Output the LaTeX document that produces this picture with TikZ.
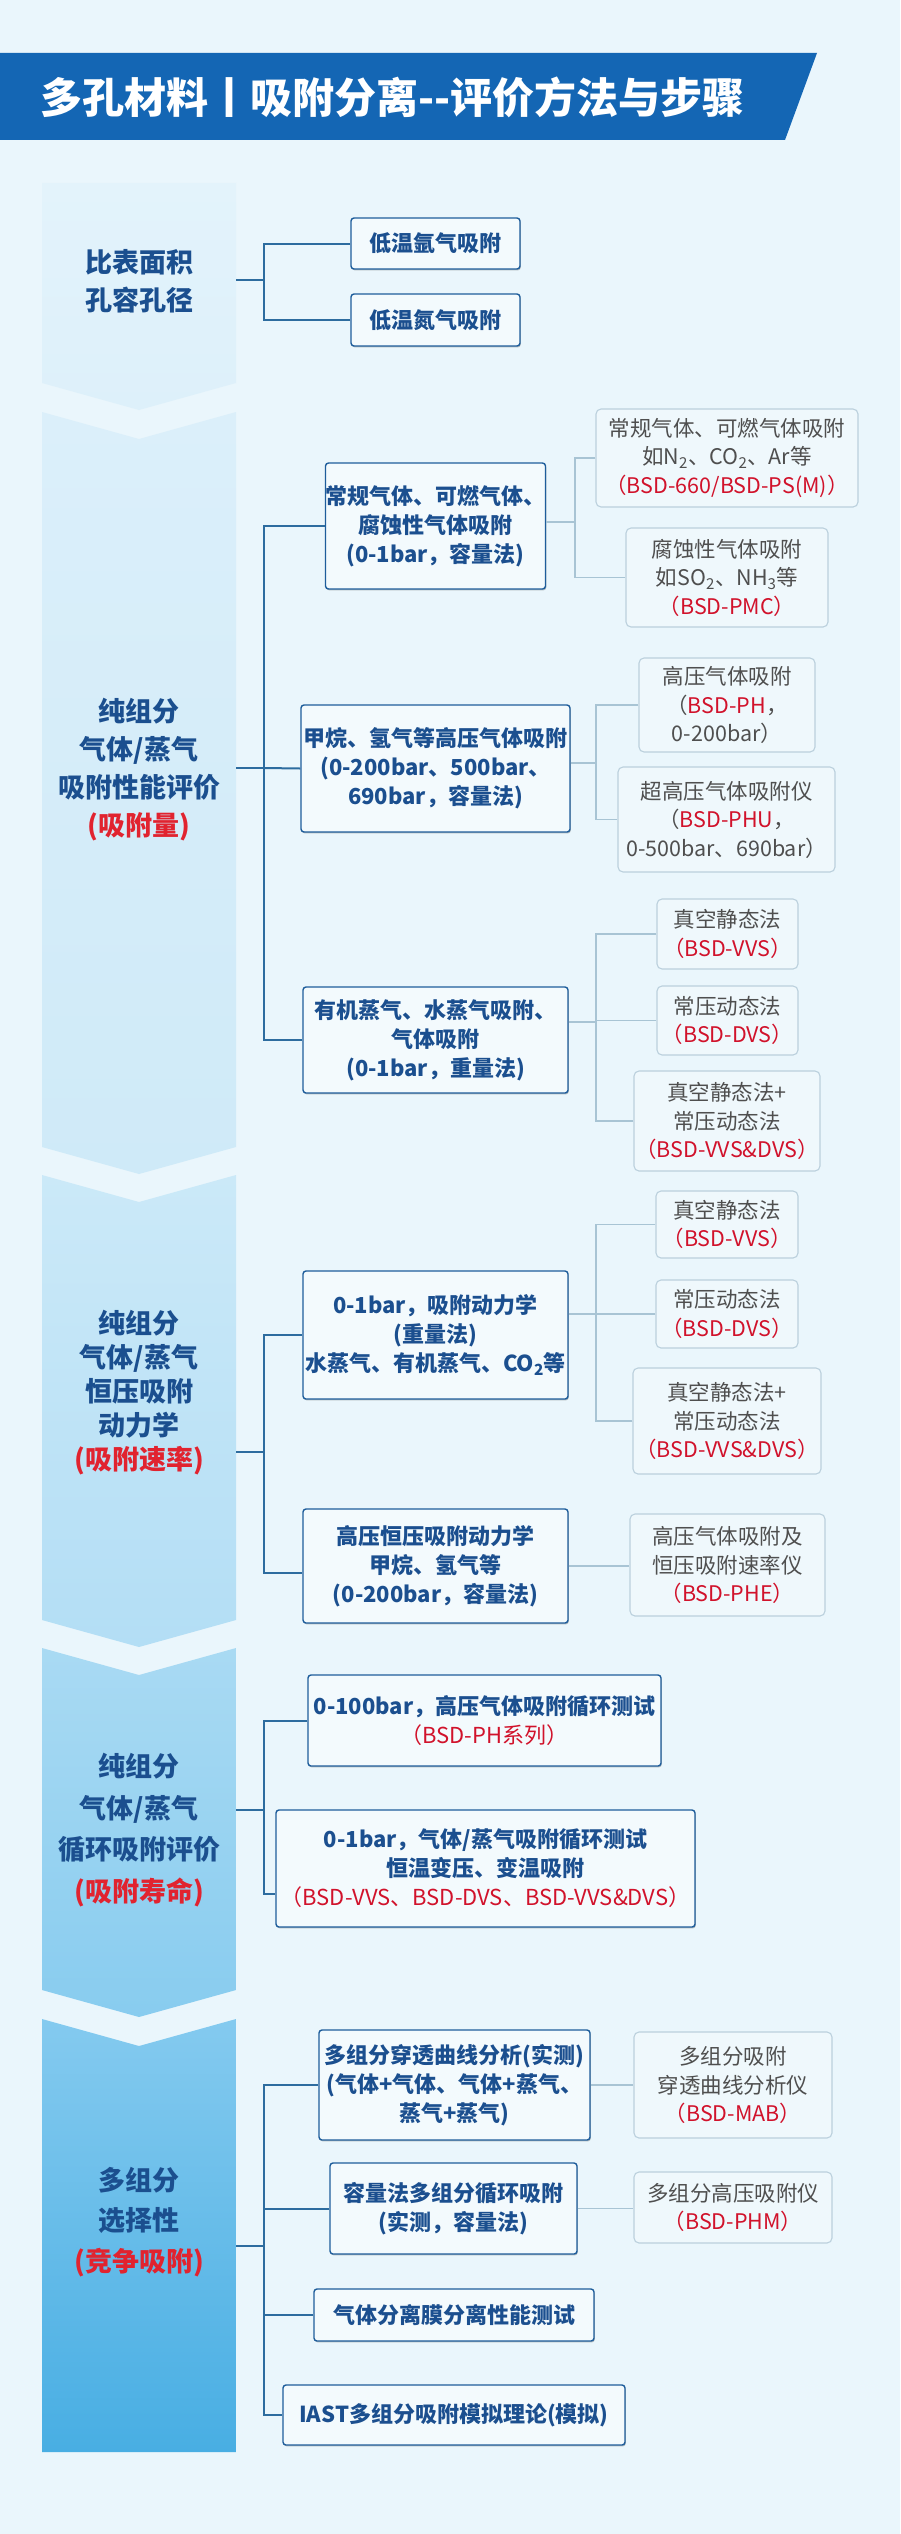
\documentclass[tikz,border=0pt]{standalone}
\usepackage{fontspec}
\setmainfont{Noto Sans CJK SC}
\usetikzlibrary{shadows}
\definecolor{bgc}{HTML}{EAF6FC}
\definecolor{ribbon}{HTML}{1466B4}
\definecolor{navy}{HTML}{1B4F8F}
\definecolor{lvtwo}{HTML}{1E5D9B}
\definecolor{boxfill}{HTML}{F3FAFD}
\definecolor{lthreeborder}{HTML}{BBD0DD}
\definecolor{lthreefill}{HTML}{EFF8FC}
\definecolor{greytext}{HTML}{4F4F4F}
\definecolor{modred}{HTML}{D1122B}
\definecolor{panelred}{HTML}{E1232F}
\definecolor{busline}{HTML}{2D6C9F}
\definecolor{subline}{HTML}{A8C4D4}
\definecolor{pa}{HTML}{E3F3FB}
\definecolor{pb}{HTML}{DDF0FA}
\definecolor{pc}{HTML}{DBEFFA}
\definecolor{pd}{HTML}{CFEAF8}
\definecolor{pe}{HTML}{CBE9F8}
\definecolor{pf}{HTML}{B3DEF5}
\definecolor{pg}{HTML}{A9DAF3}
\definecolor{ph}{HTML}{88CCEF}
\definecolor{pi}{HTML}{84CAEF}
\definecolor{pj}{HTML}{48AEE3}
\newcommand{\redm}[1]{\textcolor{modred}{#1}}
\newcommand{\panred}[1]{\textcolor{panelred}{#1}}
\tikzset{
  ltwo/.style={draw=lvtwo, fill=boxfill, line width=1.4pt, rounded corners=3pt, inner sep=0pt,
    align=center, text=navy, font=\bfseries\fontsize{22}{29}\selectfont,
    drop shadow={shadow xshift=0.8pt, shadow yshift=-1.4pt, opacity=0.35, fill=black!70}},
  lthree/.style={draw=lthreeborder, fill=lthreefill, line width=1.1pt, rounded corners=5pt, inner sep=0pt,
    align=center, text=greytext, font=\fontsize{21.5}{28.5}\selectfont},
  ptext/.style={align=center, text=navy, font=\bfseries\fontsize{27}{38}\selectfont},
  busl/.style={draw=busline, line width=2pt},
  subl/.style={draw=subline, line width=1.5pt},
}
\begin{document}
\begin{tikzpicture}[x=1pt,y=-1pt]
\useasboundingbox (0,0) rectangle (900,2534);
\fill[bgc] (0,0) rectangle (900,2534);
% title ribbon
\fill[ribbon] (0,53) -- (817,53) -- (785,140) -- (0,140) -- cycle;
\node[anchor=west, text=white, font=\bfseries\fontsize{42}{42}\selectfont, inner sep=0pt] (title) at (40,97) {多孔材料丨吸附分离-{}-评价方法与步骤};
% left chevron panels
\shade[top color=pa, bottom color=pb] (42,183) -- (236,183) -- (236,383) -- (139,410) -- (42,383) -- cycle;
\shade[top color=pc, bottom color=pd] (42,412) -- (139,439) -- (236,412) -- (236,1147) -- (139,1174) -- (42,1147) -- cycle;
\shade[top color=pe, bottom color=pf] (42,1175) -- (139,1202) -- (236,1175) -- (236,1620) -- (139,1647) -- (42,1620) -- cycle;
\shade[top color=pg, bottom color=ph] (42,1648) -- (139,1675) -- (236,1648) -- (236,1990) -- (139,2017) -- (42,1990) -- cycle;
\shade[top color=pi, bottom color=pj] (42,2019) -- (139,2046) -- (236,2019) -- (236,2452) -- (42,2452) -- cycle;
% panel texts
\node[ptext] (P1) at (139,281) {比表面积\\孔容孔径};
\node[ptext] (P2) at (139,770) {纯组分\\气体/蒸气\\吸附性能评价\\\panred{(吸附量)}};
\node[ptext, font=\bfseries\fontsize{27}{34}\selectfont] (P3) at (139,1393) {纯组分\\气体/蒸气\\恒压吸附\\动力学\\\panred{(吸附速率)}};
\node[ptext, font=\bfseries\fontsize{27}{41.5}\selectfont] (P4) at (139,1830) {纯组分\\气体/蒸气\\循环吸附评价\\\panred{(吸附寿命)}};
\node[ptext, font=\bfseries\fontsize{27}{40.5}\selectfont] (P5) at (139,2222) {多组分\\选择性\\\panred{(竞争吸附)}};
% junction coordinates
\coordinate (s1) at (236,280);  \coordinate (k1) at (264,280);
\coordinate (s2) at (236,768);  \coordinate (k2) at (264,768);
\coordinate (s3) at (236,1452); \coordinate (k3) at (264,1452); \coordinate (e3) at (264,1573);
\coordinate (s4) at (236,1810); \coordinate (k4) at (264,1810); \coordinate (g4) at (264,1894);
\coordinate (s5) at (236,2246); \coordinate (k5) at (264,2246);
\coordinate (ka) at (575,522); \coordinate (kb) at (596,763); \coordinate (kc) at (596,1022);
\coordinate (kd) at (596,1314);
% level-2 boxes
\node[ltwo, minimum width=169pt, minimum height=51pt] (Ar) at (435.5,243.5) {低温氩气吸附};
\node[ltwo, minimum width=169pt, minimum height=52pt] (Nt) at (435.5,320) {低温氮气吸附};
\node[ltwo, minimum width=217pt, minimum height=126pt] (A) at (435.5,526) {常规气体、可燃气体、\\腐蚀性气体吸附\\(0-1bar，容量法)};
\node[ltwo, minimum width=269pt, minimum height=127pt] (B) at (435.5,768.5) {甲烷、氢气等高压气体吸附\\(0-200bar、500bar、\\690bar，容量法)};
\node[ltwo, minimum width=265pt, minimum height=106pt] (C) at (435.5,1040) {有机蒸气、水蒸气吸附、\\气体吸附\\(0-1bar，重量法)};
\node[ltwo, minimum width=265pt, minimum height=128pt] (D) at (435.5,1335) {0-1bar，吸附动力学\\(重量法)\\水蒸气、有机蒸气、CO\textsubscript{2}等};
\node[ltwo, minimum width=265pt, minimum height=114pt] (E) at (435.5,1566) {高压恒压吸附动力学\\甲烷、氢气等\\(0-200bar，容量法)};
\node[ltwo, minimum width=353pt, minimum height=91pt] (F) at (484.5,1720.5) {0-100bar，高压气体吸附循环测试\\{\mdseries\redm{（BSD-PH系列）}}};
\node[ltwo, minimum width=419pt, minimum height=117pt] (G) at (485.5,1868.5) {0-1bar，气体/蒸气吸附循环测试\\恒温变压、变温吸附\\{\mdseries\redm{（BSD-VVS、BSD-DVS、BSD-VVS\&DVS）}}};
\node[ltwo, minimum width=271pt, minimum height=110pt] (H) at (454.5,2085) {多组分穿透曲线分析(实测)\\(气体+气体、气体+蒸气、\\蒸气+蒸气)};
\node[ltwo, minimum width=247pt, minimum height=91pt] (I) at (453.5,2208.5) {容量法多组分循环吸附\\(实测，容量法)};
\node[ltwo, minimum width=280pt, minimum height=52pt] (J) at (454,2315) {气体分离膜分离性能测试};
\node[ltwo, minimum width=342pt, minimum height=60pt] (K) at (454,2415) {IAST多组分吸附模拟理论(模拟)};
% level-3 boxes
\node[lthree, minimum width=262pt, minimum height=98pt] (A1) at (727,458) {常规气体、可燃气体吸附\\如N\textsubscript{2}、CO\textsubscript{2}、Ar等\\\redm{（BSD-660/BSD-PS(M)）}};
\node[lthree, minimum width=202pt, minimum height=99pt] (A2) at (727,577.5) {腐蚀性气体吸附\\如SO\textsubscript{2}、NH\textsubscript{3}等\\\redm{（BSD-PMC）}};
\node[lthree, minimum width=176pt, minimum height=94pt] (B1) at (727,705) {高压气体吸附\\（\redm{BSD-PH}，\\0-200bar）};
\node[lthree, minimum width=217pt, minimum height=105pt] (B2) at (726.5,819.5) {超高压气体吸附仪\\（\redm{BSD-PHU}，\\0-500bar、690bar）};
\node[lthree, minimum width=141pt, minimum height=70pt] (C1) at (727.5,934) {真空静态法\\\redm{（BSD-VVS）}};
\node[lthree, minimum width=141pt, minimum height=69pt] (C2) at (727.5,1020.5) {常压动态法\\\redm{（BSD-DVS）}};
\node[lthree, minimum width=186pt, minimum height=100pt] (C3) at (727,1121) {真空静态法+\\常压动态法\\\redm{（BSD-VVS\&DVS）}};
\node[lthree, minimum width=142pt, minimum height=67pt] (D1) at (727,1224.5) {真空静态法\\\redm{（BSD-VVS）}};
\node[lthree, minimum width=142pt, minimum height=68pt] (D2) at (727,1314) {常压动态法\\\redm{（BSD-DVS）}};
\node[lthree, minimum width=188pt, minimum height=106pt] (D3) at (727,1421) {真空静态法+\\常压动态法\\\redm{（BSD-VVS\&DVS）}};
\node[lthree, minimum width=195pt, minimum height=102pt] (E1) at (727.5,1565) {高压气体吸附及\\恒压吸附速率仪\\\redm{（BSD-PHE）}};
\node[lthree, minimum width=198pt, minimum height=106pt] (H1) at (733,2085) {多组分吸附\\穿透曲线分析仪\\\redm{（BSD-MAB）}};
\node[lthree, minimum width=198pt, minimum height=71pt] (I1) at (733,2207.5) {多组分高压吸附仪\\\redm{（BSD-PHM）}};
% connectors level 1
\draw[busl] (s1) -- (k1);
\draw[busl] (Ar.west) -| (k1);
\draw[busl] (Nt.west) -| (k1);
\draw[busl] (s2) -- (k2);
\draw[busl] (A.west) -| (k2);
\draw[busl] (B.west) -- (k2);
\draw[busl] (C.west) -| (k2);
\draw[busl] (s3) -- (k3);
\draw[busl] (D.west) -| (k3);
\draw[busl] (k3) -- (e3) -- (e3 -| E.west);
\draw[busl] (s4) -- (k4);
\draw[busl] (F.west) -| (k4);
\draw[busl] (k4) -- (g4) -- (g4 -| G.west);
\draw[busl] (s5) -- (k5);
\draw[busl] (H.west) -| (k5);
\draw[busl] (I.west) -| (k5);
\draw[busl] (J.west) -| (k5);
\draw[busl] (K.west) -| (k5);
% connectors level 2
\draw[subl] (A.east |- ka) -- (ka);
\draw[subl] (A1.west) -| (ka);
\draw[subl] (A2.west) -| (ka);
\draw[subl] (B.east |- kb) -- (kb);
\draw[subl] (B1.west) -| (kb);
\draw[subl] (B2.west) -| (kb);
\draw[subl] (C.east |- kc) -- (kc);
\draw[subl] (C1.west) -| (kc);
\draw[subl] (C2.west) -| (kc);
\draw[subl] (C3.west) -| (kc);
\draw[subl] (D.east |- kd) -- (kd);
\draw[subl] (D1.west) -| (kd);
\draw[subl] (D2.west) -| (kd);
\draw[subl] (D3.west) -| (kd);
\draw[subl] (E.east) -- (E.east -| E1.west);
\draw[subl] (H.east) -- (H.east -| H1.west);
\draw[subl] (I.east) -- (I.east -| I1.west);
\end{tikzpicture}
\end{document}
